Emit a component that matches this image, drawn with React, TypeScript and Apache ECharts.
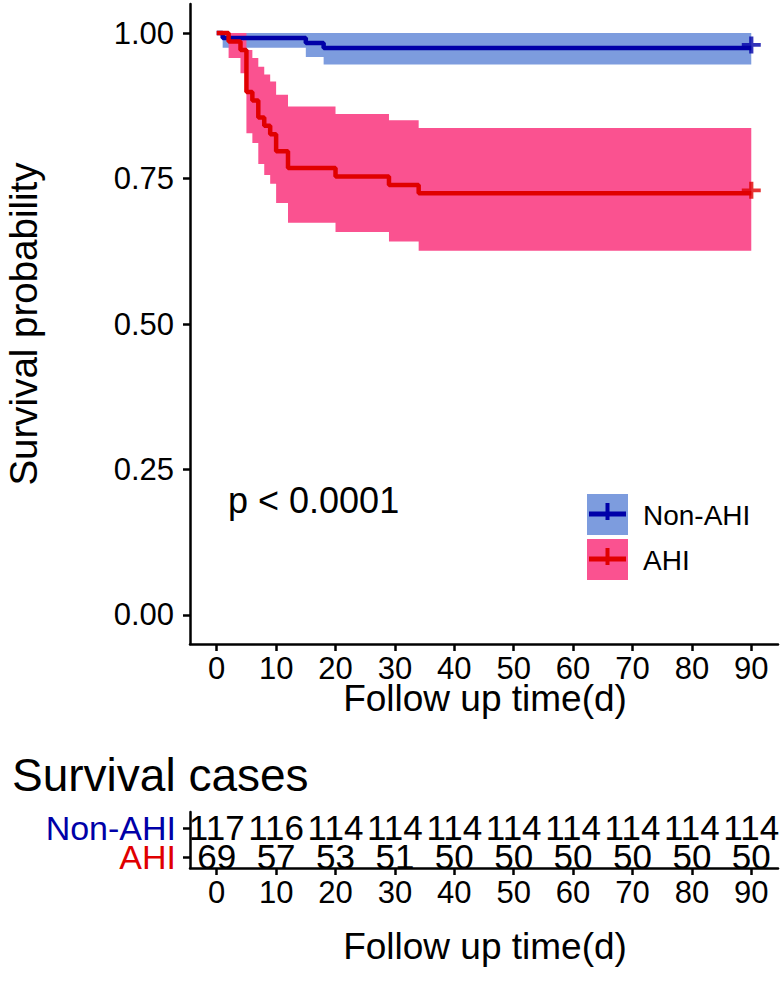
import React, { useEffect, useRef } from "react";
import * as echarts from "echarts";

// ---- data ----
const groupNames = ["Non-AHI", "AHI"];
const nonAhiTimes = [0, 1, 15, 18, 90];
const nonAhiSurv = [1, 0.9915, 0.9829, 0.9744, 0.9744];
const nonAhiLower = [1, 0.975, 0.959, 0.946, 0.946];
const nonAhiUpper = [1, 1, 1, 1, 1];

const ahiTimes = [0, 2, 4, 5, 6, 7, 8, 9, 10, 12, 20, 29, 34, 90];
const ahiSurv = [1, 0.9855, 0.971, 0.8986, 0.8841, 0.8551, 0.8406, 0.8261, 0.7971, 0.7681, 0.7536, 0.7391, 0.7246, 0.7246];
const ahiLower = [1, 0.957, 0.931, 0.828, 0.811, 0.775, 0.756, 0.741, 0.708, 0.674, 0.658, 0.642, 0.626, 0.626];
const ahiUpper = [1, 1, 1, 0.971, 0.957, 0.942, 0.929, 0.917, 0.894, 0.874, 0.861, 0.85, 0.837, 0.837];

const censorTime = 90;
const tableTimes = [0, 10, 20, 30, 40, 50, 60, 70, 80, 90];
const nonAhiAtRisk = [117, 116, 114, 114, 114, 114, 114, 114, 114, 114];
const ahiAtRisk = [69, 57, 53, 51, 50, 50, 50, 50, 50, 50];
const tableRows = [2, 1]; // Non-AHI row on top, AHI row below
const xTicks = [0, 10, 20, 30, 40, 50, 60, 70, 80, 90];
const yTicks = [0, 0.25, 0.5, 0.75, 1];
const pText = "p < 0.0001";

// ---- styles ----
const FONT = "Liberation Sans, Arial, Helvetica, sans-serif";
const BLUE = "#0000A8";
const RED = "#E00000";
const BLUE_FILL = "#7D9CDE";
const PINK_FILL = "#FA5290";
const PLUS = "path://M7,0h4v7h7v4h-7v7h-4v-7h-7v-4h7z";
const X_MIN = -4.5;
const X_MAX = 94.5;

function ribbon(times: number[], lower: number[], upper: number[], fill: string) {
  return {
    type: "custom",
    xAxisIndex: 0,
    yAxisIndex: 0,
    data: [[times[0], lower[0]]],
    silent: true,
    z: 1,
    renderItem: (_params: any, api: any) => {
      const pts: number[][] = [];
      for (let i = 0; i < times.length - 1; i++) {
        pts.push(api.coord([times[i], upper[i]]));
        pts.push(api.coord([times[i + 1], upper[i]]));
      }
      for (let i = times.length - 2; i >= 0; i--) {
        pts.push(api.coord([times[i + 1], lower[i]]));
        pts.push(api.coord([times[i], lower[i]]));
      }
      return { type: "polygon", shape: { points: pts }, style: { fill } };
    },
  };
}

function survLine(times: number[], surv: number[], color: string) {
  return {
    type: "line",
    step: "end",
    showSymbol: false,
    silent: true,
    z: 3,
    lineStyle: { color, width: 4.5 },
    data: times.map((t, i) => [t, surv[i]]),
  };
}

function censor(t: number, s: number, color: string) {
  return {
    type: "scatter",
    symbol: PLUS,
    symbolSize: [19, 17],
    symbolOffset: [0, -3],
    itemStyle: { color },
    silent: true,
    z: 4,
    data: [[t, s]],
  };
}

function xAxisCfg(gridIndex: number) {
  return {
    type: "value",
    gridIndex,
    min: X_MIN,
    max: X_MAX,
    axisLine: { show: true, onZero: false, lineStyle: { color: "#000", width: 2.5 } },
    axisTick: { show: true, length: 7, lineStyle: { color: "#000", width: 2.5 }, customValues: xTicks },
    axisLabel: { customValues: xTicks, fontSize: 31, color: "#000", fontFamily: FONT, margin: 9 },
    splitLine: { show: false },
  };
}

export default function App() {
  const ref = useRef<HTMLDivElement>(null);
  useEffect(() => {
    if (!ref.current) return;
    const chart = echarts.init(ref.current, null, { renderer: "svg" });
    const cells: number[][] = [];
    tableTimes.forEach((t, i) => {
      cells.push([t, tableRows[0], nonAhiAtRisk[i]]);
      cells.push([t, tableRows[1], ahiAtRisk[i]]);
    });
    const option: any = {
      animation: false,
      backgroundColor: "#fff",
      grid: [
        { left: 190, right: 6, top: 4, height: 640 },
        { left: 190, right: 6, top: 812, height: 56 },
      ],
      xAxis: [xAxisCfg(0), xAxisCfg(1)],
      yAxis: [
        {
          type: "value",
          gridIndex: 0,
          min: -0.05,
          max: 1.05,
          axisLine: { show: true, onZero: false, lineStyle: { color: "#000", width: 2.5 } },
          axisTick: { show: true, length: 7, lineStyle: { color: "#000", width: 2.5 }, customValues: yTicks },
          axisLabel: {
            customValues: yTicks,
            fontSize: 31,
            color: "#000",
            fontFamily: FONT,
            margin: 16,
            formatter: (v: number) => v.toFixed(2),
          },
          splitLine: { show: false },
        },
        {
          type: "value",
          gridIndex: 1,
          min: 0.62,
          max: 2.55,
          axisLine: { show: true, onZero: false, lineStyle: { color: "#000", width: 2.5 } },
          axisTick: { show: true, length: 7, lineStyle: { color: "#000", width: 2.5 }, customValues: tableRows },
          axisLabel: { show: false },
          splitLine: { show: false },
        },
      ],
      series: [
        ribbon(nonAhiTimes, nonAhiLower, nonAhiUpper, BLUE_FILL),
        ribbon(ahiTimes, ahiLower, ahiUpper, PINK_FILL),
        survLine(nonAhiTimes, nonAhiSurv, BLUE),
        survLine(ahiTimes, ahiSurv, RED),
        censor(censorTime, nonAhiSurv[nonAhiSurv.length - 1], BLUE),
        censor(censorTime, ahiSurv[ahiSurv.length - 1], RED),
        {
          type: "custom",
          xAxisIndex: 1,
          yAxisIndex: 1,
          silent: true,
          data: cells,
          renderItem: (_p: any, api: any) => {
            const pt = api.coord([api.value(0), api.value(1)]);
            return {
              type: "text",
              x: pt[0],
              y: pt[1],
              style: {
                text: String(api.value(2)),
                font: `35px ${FONT}`,
                lineHeight: 27,
                fill: "#000",
                textAlign: "center",
                textVerticalAlign: "middle",
              },
            };
          },
        },
        {
          type: "custom",
          xAxisIndex: 1,
          yAxisIndex: 1,
          silent: true,
          data: tableRows.map((r, i) => [X_MIN, r, i]),
          renderItem: (_p: any, api: any) => {
            const pt = api.coord([api.value(0), api.value(1)]);
            const i = api.value(2);
            return {
              type: "text",
              x: pt[0] - 14,
              y: pt[1],
              style: {
                text: groupNames[i],
                font: `34px ${FONT}`,
                lineHeight: 27,
                fill: i === 0 ? BLUE : RED,
                textAlign: "right",
                textVerticalAlign: "middle",
              },
            };
          },
        },
      ],
      graphic: [
        {
          type: "text",
          x: 23,
          y: 324,
          rotation: Math.PI / 2,
          style: { text: "Survival probability", font: `38.5px ${FONT}`, fill: "#000", textAlign: "center", textVerticalAlign: "middle" },
        },
        {
          type: "text",
          x: 485,
          y: 698,
          style: { text: "Follow up time(d)", font: `37px ${FONT}`, fill: "#000", textAlign: "center", textVerticalAlign: "middle" },
        },
        {
          type: "text",
          x: 228,
          y: 500,
          style: { text: pText, font: `36px ${FONT}`, fill: "#000", textAlign: "left", textVerticalAlign: "middle" },
        },
        // legend
        { type: "rect", shape: { x: 587, y: 494, width: 41, height: 41 }, style: { fill: BLUE_FILL } },
        { type: "line", shape: { x1: 589, y1: 514, x2: 626, y2: 514 }, style: { stroke: BLUE, lineWidth: 5 } },
        { type: "rect", shape: { x: 605.5, y: 503, width: 4, height: 17 }, style: { fill: BLUE } },
        { type: "rect", shape: { x: 587, y: 539, width: 41, height: 41 }, style: { fill: PINK_FILL } },
        { type: "line", shape: { x1: 589, y1: 559, x2: 626, y2: 559 }, style: { stroke: RED, lineWidth: 5 } },
        { type: "rect", shape: { x: 605.5, y: 548, width: 4, height: 17 }, style: { fill: RED } },
        {
          type: "text",
          x: 643,
          y: 515,
          style: { text: groupNames[0], font: `28px ${FONT}`, fill: "#000", textAlign: "left", textVerticalAlign: "middle" },
        },
        {
          type: "text",
          x: 643,
          y: 560,
          style: { text: groupNames[1], font: `28px ${FONT}`, fill: "#000", textAlign: "left", textVerticalAlign: "middle" },
        },
        // risk table titles
        {
          type: "text",
          x: 12,
          y: 775,
          style: { text: "Survival cases", font: `46px ${FONT}`, fill: "#000", textAlign: "left", textVerticalAlign: "middle" },
        },
        {
          type: "text",
          x: 485,
          y: 946,
          style: { text: "Follow up time(d)", font: `37px ${FONT}`, fill: "#000", textAlign: "center", textVerticalAlign: "middle" },
        },
      ],
    };
    chart.setOption(option);
    return () => chart.dispose();
  }, []);
  return <div ref={ref} style={{ position: "fixed", left: 0, top: 0, width: 784, height: 987 }} />;
}
